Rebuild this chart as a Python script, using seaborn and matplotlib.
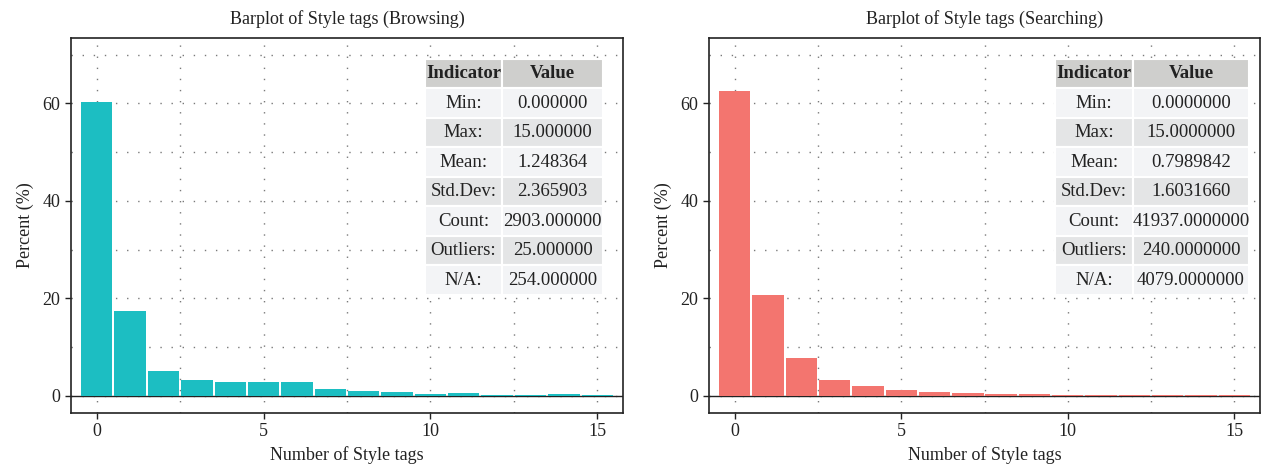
import matplotlib
matplotlib.use("Agg")
import matplotlib.pyplot as plt
import seaborn as sns
import numpy as np
import pandas as pd

# ---- data ----
tags = list(range(16))
browsing_pct = [60.3, 17.5, 5.2, 3.2, 2.9, 2.9, 2.9, 1.35, 0.95, 0.75, 0.35, 0.55, 0.15, 0.15, 0.3, 0.15]
searching_pct = [62.6, 20.8, 7.7, 3.2, 2.0, 1.15, 0.75, 0.55, 0.35, 0.35, 0.15, 0.15, 0.15, 0.15, 0.15, 0.15]

indicators = ["Min:", "Max:", "Mean:", "Std.Dev:", "Count:", "Outliers:", "N/A:"]
browsing_vals = ["0.000000", "15.000000", "1.248364", "2.365903", "2903.000000", "25.000000", "254.000000"]
searching_vals = ["0.0000000", "15.0000000", "0.7989842", "1.6031660", "41937.0000000", "240.0000000", "4079.0000000"]

titles = ["Barplot of Style tags (Browsing)", "Barplot of Style tags (Searching)"]
colors = ["#1CBEC2", "#F3756F"]

sns.set_style("white")
plt.rcParams["font.family"] = ["Liberation Serif", "DejaVu Serif"]
TXT = "#222222"

fig = plt.figure(figsize=(12.63, 4.72), dpi=100)
ax_pos = [[71 / 1263, 59 / 472, 552 / 1263, 375 / 472],
          [709 / 1263, 59 / 472, 551 / 1263, 375 / 472]]
tab_bbox = [[0.641, 0.315, 0.323, 0.629],
            [0.628, 0.315, 0.352, 0.629]]
col_w = [[77 / 178, 101 / 178], [78 / 194, 116 / 194]]

for i, (vals, stats) in enumerate([(browsing_pct, browsing_vals), (searching_pct, searching_vals)]):
    ax = fig.add_axes(ax_pos[i])
    df = pd.DataFrame({"tags": tags, "pct": vals})
    sns.barplot(data=df, x="tags", y="pct", ax=ax, color=colors[i], width=0.94,
                native_scale=True, linewidth=0, saturation=1, zorder=2)
    ax.set_xlim(-0.77, 15.77)
    ax.set_ylim(-3.5, 73.4)
    ax.set_xticks([0, 5, 10, 15])
    ax.set_xticks([2.5, 7.5, 12.5], minor=True)
    ax.set_yticks([0, 20, 40, 60])
    ax.set_yticks([10, 30, 50, 70], minor=True)
    ax.grid(which="both", linestyle=(0, (1, 7)), color="#7a7a7a", linewidth=1.0, zorder=0)
    ax.set_axisbelow(True)
    ax.axhline(0, color="#222222", linewidth=1.0, zorder=1.5)
    for s in ax.spines.values():
        s.set_color("#222222")
        s.set_linewidth(1.2)
        s.set_visible(True)
    ax.tick_params(axis="both", which="major", direction="out", length=4, width=1,
                   color="#222222", labelsize=13, labelcolor=TXT, left=True, bottom=True)
    ax.tick_params(axis="both", which="minor", length=0)
    ax.set_xlabel("Number of Style tags", fontsize=13, color=TXT, labelpad=4)
    ax.set_ylabel("Percent (%)", fontsize=13, color=TXT, labelpad=6)
    ax.set_title(titles[i], fontsize=13, color=TXT, pad=10)

    cell_text = [[a, b] for a, b in zip(indicators, stats)]
    tab = ax.table(cellText=cell_text, colLabels=["Indicator", "Value"],
                   cellLoc="center", colLoc="center", bbox=tab_bbox[i],
                   colWidths=col_w[i], zorder=5)
    tab.auto_set_font_size(False)
    for (r, c), cell in tab.get_celld().items():
        cell.set_edgecolor("white")
        cell.set_linewidth(1.5)
        txt = cell.get_text()
        txt.set_fontsize(13.5)
        txt.set_color(TXT)
        txt.set_fontfamily(["Liberation Serif", "DejaVu Serif"])
        if r == 0:
            cell.set_facecolor("#cfcfcd")
            txt.set_fontweight("bold")
        elif r % 2 == 1:
            cell.set_facecolor("#f3f4f6")
        else:
            cell.set_facecolor("#e4e5e6")

fig.savefig("out.png", dpi=100)
